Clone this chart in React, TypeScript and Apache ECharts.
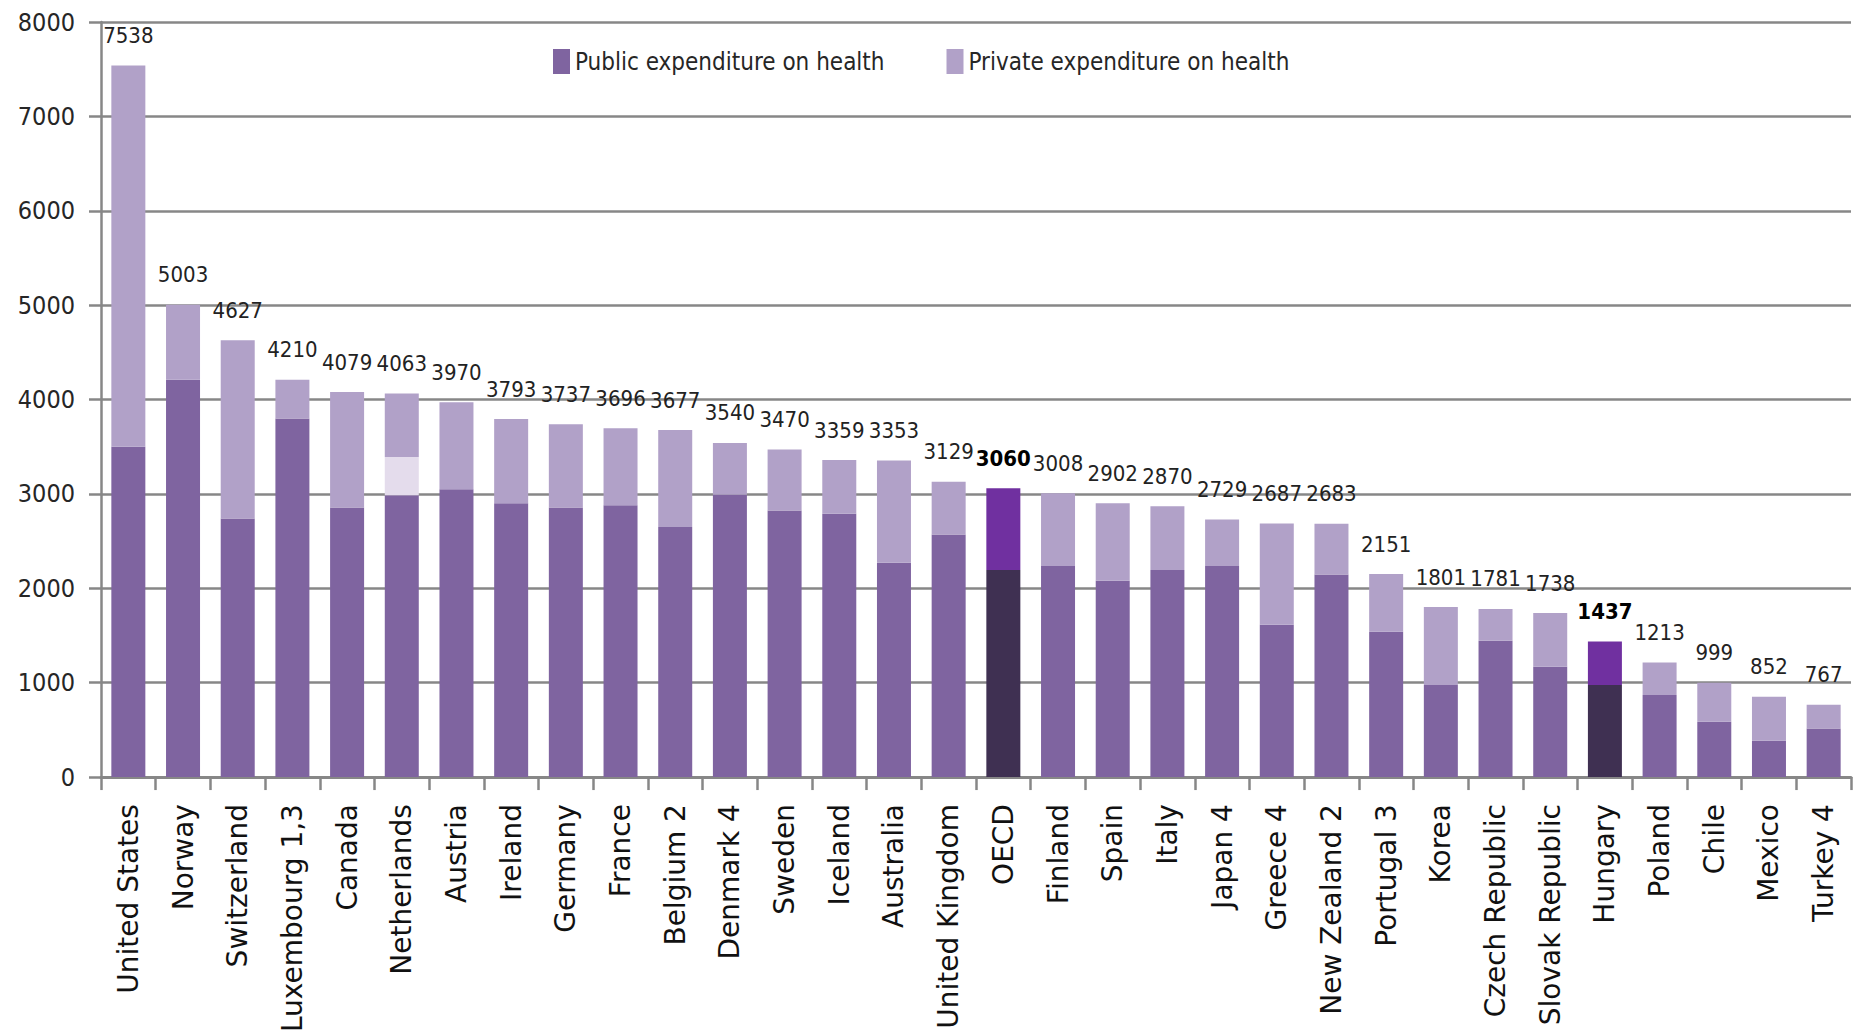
import React, { useEffect, useRef } from "react";
import * as echarts from "echarts";

const categories = [
  "United States", "Norway", "Switzerland", "Luxembourg 1,3", "Canada", "Netherlands",
  "Austria", "Ireland", "Germany", "France", "Belgium 2", "Denmark 4", "Sweden", "Iceland",
  "Australia", "United Kingdom", "OECD", "Finland", "Spain", "Italy", "Japan 4", "Greece 4",
  "New Zealand 2", "Portugal 3", "Korea", "Czech Republic", "Slovak Republic", "Hungary",
  "Poland", "Chile", "Mexico", "Turkey 4",
];

const totals = [
  7538, 5003, 4627, 4210, 4079, 4063, 3970, 3793, 3737, 3696, 3677, 3540, 3470, 3359,
  3353, 3129, 3060, 3008, 2902, 2870, 2729, 2687, 2683, 2151, 1801, 1781, 1738, 1437,
  1213, 999, 852, 767,
];

const publicSpend = [
  3500, 4210, 2740, 3800, 2855, 2985, 3050, 2900, 2855, 2880, 2650, 2990, 2825, 2790,
  2270, 2570, 2195, 2235, 2080, 2195, 2235, 1615, 2145, 1540, 975, 1445, 1170, 975,
  870, 585, 385, 515,
];

// Netherlands: part of expenditure not allocated to public or private
const unallocated = [
  0, 0, 0, 0, 0, 405, 0, 0, 0, 0, 0, 0, 0, 0,
  0, 0, 0, 0, 0, 0, 0, 0, 0, 0, 0, 0, 0, 0,
  0, 0, 0, 0,
];

const highlighted = ["OECD", "Hungary"];

const yMin = 0;
const yMax = 8000;
const yInterval = 1000;

const NARROW =
  "'Liberation Sans Narrow', 'Arial Narrow', 'DejaVu Sans Condensed', 'Liberation Sans', sans-serif";
const WIDE = "'DejaVu Sans', Verdana, sans-serif";

const C_PUBLIC = "#7f64a0";
const C_PRIVATE = "#b1a1c8";
const C_UNALLOC = "#e4dcec";
const C_HI_PUBLIC = "#3f3052";
const C_HI_PRIVATE = "#7030a0";
const C_GRID = "#878787";

export default function App() {
  const ref = useRef<HTMLDivElement>(null);

  useEffect(() => {
    if (!ref.current) return;
    const chart = echarts.init(ref.current, null, { renderer: "svg" });
    const privateSpend = totals.map((t, i) => t - publicSpend[i] - unallocated[i]);
    const isHi = (i: number) => highlighted.includes(categories[i]);

    const option: any = {
      animation: false,
      backgroundColor: "#ffffff",
      grid: { left: 101, right: 3, top: 22, bottom: 257, containLabel: false },
      legend: {
        data: ["Public expenditure on health", "Private expenditure on health"],
        left: 548,
        top: 44,
        itemWidth: 17,
        itemHeight: 25,
        itemGap: 62,
        icon: "rect",
        textStyle: { fontFamily: NARROW, fontSize: 24, color: "#262626" },
      },
      xAxis: {
        type: "category",
        data: categories,
        axisLine: { show: true, lineStyle: { color: C_GRID, width: 3 } },
        axisTick: { show: true, length: 13, lineStyle: { color: C_GRID, width: 2.5 } },
        axisLabel: {
          rotate: 90,
          margin: 27,
          interval: 0,
          fontFamily: WIDE,
          fontSize: 28,
          color: "#111",
        },
      },
      yAxis: {
        type: "value",
        min: yMin,
        max: yMax,
        interval: yInterval,
        axisLine: { show: true, lineStyle: { color: C_GRID, width: 2.5 } },
        axisTick: { show: true, length: 12, lineStyle: { color: C_GRID, width: 2.5 } },
        splitLine: { show: true, lineStyle: { color: C_GRID, width: 2.5 } },
        axisLabel: {
          margin: 26,
          fontFamily: NARROW,
          fontSize: 25,
          color: "#262626",
          formatter: (v: number) => String(v),
        },
      },
      series: [
        {
          name: "Public expenditure on health",
          type: "bar",
          stack: "total",
          barWidth: 34,
          itemStyle: { color: C_PUBLIC },
          data: publicSpend.map((v, i) =>
            isHi(i) ? { value: v, itemStyle: { color: C_HI_PUBLIC } } : v
          ),
        },
        {
          name: "Not allocated",
          type: "bar",
          stack: "total",
          barWidth: 34,
          itemStyle: { color: C_UNALLOC },
          data: unallocated.map((v) => (v > 0 ? v : null)),
        },
        {
          name: "Private expenditure on health",
          type: "bar",
          stack: "total",
          barWidth: 34,
          itemStyle: { color: C_PRIVATE },
          label: {
            show: true,
            position: "top",
            distance: 19,
            fontFamily: NARROW,
            fontSize: 22,
            color: "#222",
            formatter: (p: any) => String(totals[p.dataIndex]),
          },
          data: privateSpend.map((v, i) =>
            isHi(i)
              ? {
                  value: v,
                  itemStyle: { color: C_HI_PRIVATE },
                  label: { fontWeight: "bold", color: "#000" },
                }
              : v
          ),
        },
      ],
    };

    chart.setOption(option);
    return () => chart.dispose();
  }, []);

  return (
    <div
      ref={ref}
      style={{ position: "fixed", left: 0, top: 0, width: 1854, height: 1035, background: "#fff" }}
    />
  );
}
